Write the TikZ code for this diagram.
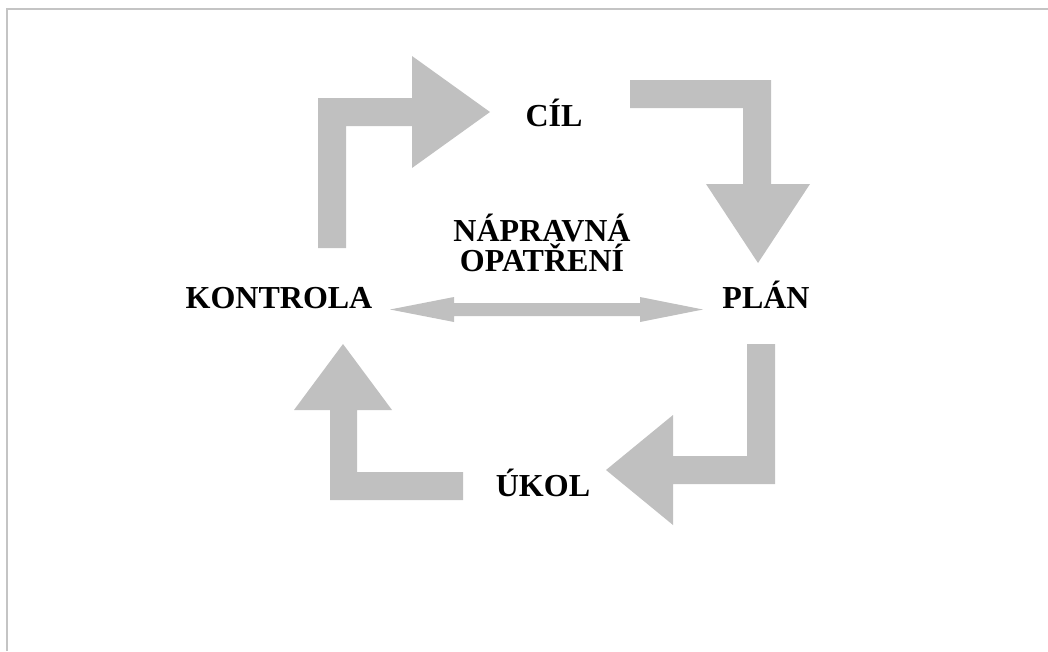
\documentclass[tikz,border=0pt]{standalone}
\usepackage{fontspec}
\setmainfont{Liberation Serif}
\begin{document}
\begin{tikzpicture}[x=1pt,y=-1pt,
  blockarrow/.style={fill=arrowgray,draw=none},
  label/.style={font=\fontsize{32}{30}\selectfont\bfseries,anchor=base,inner sep=0pt,align=center}]
\definecolor{arrowgray}{HTML}{C0C0C0}
\definecolor{framegray}{HTML}{C4C4C4}
\useasboundingbox (0,0) rectangle (1048,651);
% frame edges
\draw[framegray,line width=2pt] (7,651) -- (7,9) -- (1048,9);

% labels (anchored at the baseline of their last line)
\node[label] (cil) at (554,126) {CÍL};
\node[label] (plan) at (766,308) {PLÁN};
\node[label] (ukol) at (543,496) {ÚKOL};
\node[label] (kontrola) at (279,308) {KONTROLA};
\node[label] (napr) at (542,271) {NÁPRAVNÁ\\OPATŘENÍ};

% bent arrow: KONTROLA -> CÍL
\fill[blockarrow] (318,248) -- (318,98) -- (412,98) -- (412,56) -- (490,112)
  -- (412,168) -- (412,126) -- (346,126) -- (346,248) -- cycle;
% bent arrow: CÍL -> PLÁN
\fill[blockarrow] (630,80) -- (771,80) -- (771,184) -- (810,184) -- (758,263)
  -- (706,184) -- (743,184) -- (743,108) -- (630,108) -- cycle;
% bent arrow: PLÁN -> ÚKOL
\fill[blockarrow] (747,344) -- (775,344) -- (775,484) -- (673,484) -- (673,525)
  -- (606,470) -- (673,415) -- (673,456) -- (747,456) -- cycle;
% bent arrow: ÚKOL -> KONTROLA
\fill[blockarrow] (463,472) -- (463,500) -- (330,500) -- (330,410) -- (294,410)
  -- (343,344) -- (392,410) -- (357,410) -- (357,472) -- cycle;

% double arrow between KONTROLA and PLÁN
\coordinate (dl) at (390,309.5);
\coordinate (dr) at (703,309.5);
\fill[blockarrow] (dl) -- (454,297) -- (454,303) -- (640,303) -- (640,297) -- (dr)
  -- (640,322) -- (640,316) -- (454,316) -- (454,322) -- cycle;
\end{tikzpicture}
\end{document}
